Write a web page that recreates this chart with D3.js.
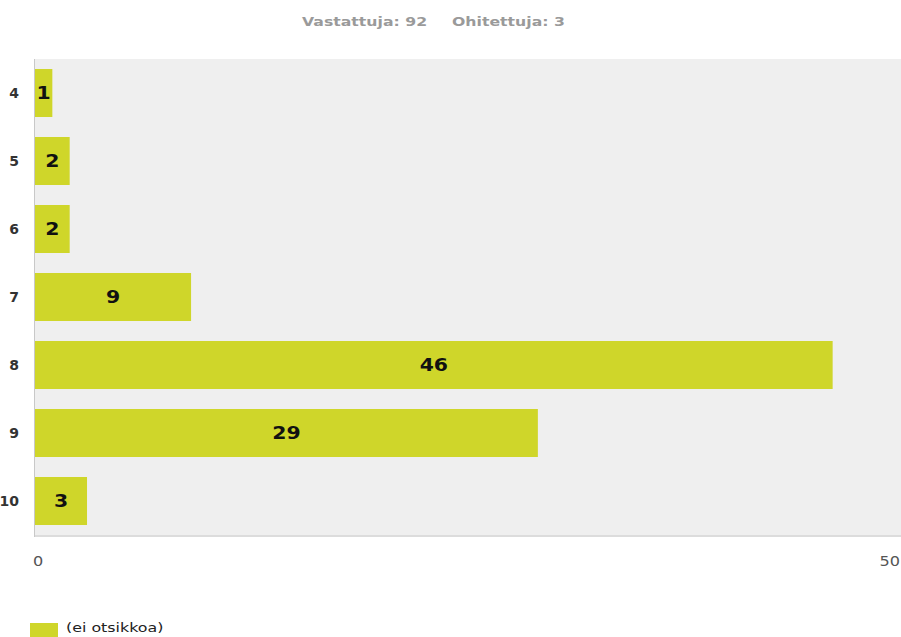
<!DOCTYPE html>
<html><head><meta charset="utf-8">
<script src="https://cdn.jsdelivr.net/npm/d3@7"></script>
<style>body{margin:0;background:#fff}svg{display:block}</style>
</head><body>
<script>
const categories = ["4","5","6","7","8","9","10"];
const values = [1,2,2,9,46,29,3];
const xTicks = [0,50];
const seriesName = "(ei otsikkoa)";
const titleParts = ["Vastattuja: 92", "Ohitettuja: 3"];

(function(){
const W=901,H=637;
const svg=d3.select("body").append("svg").attr("width",W).attr("height",H);
const mLeft=35,mRight=902,mTop=59,mBottom=535;
const x=d3.scaleLinear().domain([0,50]).range([mLeft,mRight]);
const y=d3.scaleBand().domain(categories).range([mTop,mBottom]).paddingInner(0.294).paddingOuter(0.147);
const FONT="DejaVu Sans, Verdana, sans-serif";

svg.append("rect").attr("x",mLeft).attr("y",mTop).attr("width",mRight-mLeft).attr("height",mBottom-mTop).attr("fill","#efefef");
svg.append("line").attr("x1",mLeft).attr("x2",W).attr("y1",mBottom+1).attr("y2",mBottom+1).attr("stroke","#dcdcdc").attr("stroke-width",2);
svg.append("line").attr("x1",mLeft-0.5).attr("x2",mLeft-0.5).attr("y1",mTop).attr("y2",mBottom+2).attr("stroke","#c8c8c8").attr("stroke-width",1);

function stext(g, tx, ty, sx, anchor){
  return g.append("text").attr("transform",`translate(${tx},${ty}) scale(${sx},1)`).attr("text-anchor",anchor||"start");
}

// title
const tg=svg.append("g");
stext(tg,302,26,1.21,"start").attr("fill","#9a9a9a").style("font-family",FONT).style("font-weight","bold").style("font-size","13px").text(titleParts[0]);
stext(tg,452,26,1.21,"start").attr("fill","#9a9a9a").style("font-family",FONT).style("font-weight","bold").style("font-size","13px").text(titleParts[1]);

svg.selectAll(".bar").data(values).enter().append("rect")
  .attr("x",x(0)).attr("y",(d,i)=>y(categories[i])).attr("width",d=>x(d)-x(0)).attr("height",y.bandwidth()).attr("fill","#cfd62a");

values.forEach((d,i)=>{
  stext(svg,(x(0)+x(d))/2,y(categories[i])+y.bandwidth()/2+6,1.2,"middle")
    .attr("fill","#111").style("font-family",FONT).style("font-weight","bold").style("font-size","17px").text(d);
});

categories.forEach(c=>{
  stext(svg,19,y(c)+y.bandwidth()/2+5,1.0,"end")
    .attr("fill","#333").style("font-family",FONT).style("font-weight","bold").style("font-size","14px").text(c);
});

xTicks.forEach(t=>{
  stext(svg,t===0?x(t)+3:W-1,566,1.15,t===0?"middle":"end")
    .attr("fill","#555").style("font-family",FONT).style("font-size","14px").text(t);
});

svg.append("rect").attr("x",30).attr("y",623).attr("width",28).attr("height",14).attr("fill","#cfd62a");
stext(svg,66,632,1.22,"start").attr("fill","#222").style("font-family",FONT).style("font-size","13px").text(seriesName);
})();
</script>
</body></html>
